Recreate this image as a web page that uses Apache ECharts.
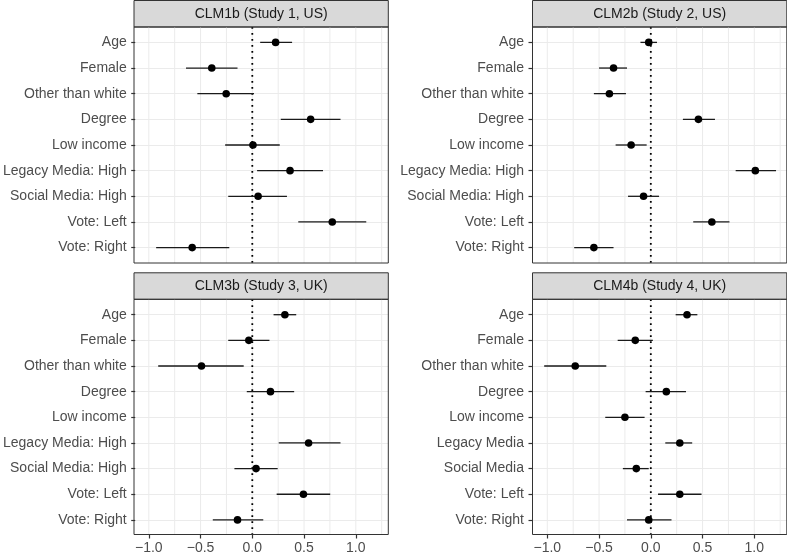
<!DOCTYPE html>
<html>
<head>
<meta charset="utf-8">
<script src="https://cdn.jsdelivr.net/npm/echarts@6/dist/echarts.min.js"></script>
<style>
  html, body { margin: 0; padding: 0; background: #fff; }
  #chart { width: 787px; height: 555px; }
</style>
</head>
<body>
<div id="chart"></div>
<script>
// categories
var termsLong = ['Age', 'Female', 'Other than white', 'Degree', 'Low income',
  'Legacy Media: High', 'Social Media: High', 'Vote: Left', 'Vote: Right'];
var termsShort = ['Age', 'Female', 'Other than white', 'Degree', 'Low income',
  'Legacy Media', 'Social Media', 'Vote: Left', 'Vote: Right'];
var panelTitles = ['CLM1b (Study 1, US)', 'CLM2b (Study 2, US)', 'CLM3b (Study 3, UK)', 'CLM4b (Study 4, UK)'];

// estimates and interval ends, one set per model
var est1 = [0.22, -0.40, -0.26, 0.56, 0.00, 0.36, 0.05, 0.77, -0.59];
var lo1  = [0.07, -0.65, -0.54, 0.27, -0.27, 0.04, -0.24, 0.44, -0.94];
var hi1  = [0.38, -0.15, 0.01, 0.85, 0.26, 0.68, 0.33, 1.10, -0.23];

var est2 = [-0.02, -0.36, -0.40, 0.46, -0.19, 1.01, -0.07, 0.59, -0.55];
var lo2  = [-0.10, -0.50, -0.55, 0.31, -0.34, 0.82, -0.22, 0.41, -0.74];
var hi2  = [0.06, -0.23, -0.24, 0.62, -0.04, 1.21, 0.08, 0.76, -0.36];

var est3 = [0.31, -0.04, -0.50, 0.17, null, 0.54, 0.03, 0.49, -0.15];
var lo3  = [0.20, -0.24, -0.92, -0.06, null, 0.25, -0.18, 0.23, -0.39];
var hi3  = [0.42, 0.16, -0.09, 0.40, null, 0.85, 0.24, 0.75, 0.10];

var est4 = [0.35, -0.15, -0.73, 0.15, -0.25, 0.28, -0.14, 0.28, -0.02];
var lo4  = [0.24, -0.32, -1.03, -0.05, -0.44, 0.14, -0.27, 0.07, -0.23];
var hi4  = [0.45, 0.02, -0.43, 0.34, -0.06, 0.40, -0.02, 0.49, 0.20];

// x ticks
var xMajor = [-1, -0.5, 0, 0.5, 1];
var xGrid = [-1, -0.75, -0.5, -0.25, 0, 0.25, 0.5, 0.75, 1, 1.25];
var refValue = 0;

var FONT = 'Liberation Sans, Arial, Helvetica, sans-serif';
var X_MIN = -1.143, X_MAX = 1.314;

var panels = [
  { left: 134, top: 27, terms: termsLong, est: est1, lo: lo1, hi: hi1, bottom: false },
  { left: 532.5, top: 27, terms: termsLong, est: est2, lo: lo2, hi: hi2, bottom: false },
  { left: 134, top: 299.3, terms: termsLong, est: est3, lo: lo3, hi: hi3, bottom: true },
  { left: 532.5, top: 299.3, terms: termsShort, est: est4, lo: lo4, hi: hi4, bottom: true }
];
var PW = 254.3, PH = 236, STRIP = 27;
var step = PH / 9.2;

function fmt (v) {
  return (v < 0 ? '\u2212' : '') + Math.abs(v).toFixed(1);
}

// full-height vertical line at x value (grid lines / reference line)
function vLine (color, width, dash) {
  return function (params, api) {
    var cs = params.coordSys;
    var x = api.coord([api.value(0), 0.5])[0];
    return {
      type: 'line',
      shape: { x1: x, y1: cs.y, x2: x, y2: cs.y + cs.height },
      style: { stroke: color, lineWidth: width, lineDash: dash || null }
    };
  };
}

function renderErr (params, api) {
  var y = api.value(1);
  var p = api.coord([api.value(0), y]);
  var a = api.coord([api.value(2), y]);
  var b = api.coord([api.value(3), y]);
  return {
    type: 'group',
    children: [
      { type: 'line', shape: { x1: a[0], y1: a[1], x2: b[0], y2: b[1] }, style: { stroke: '#1a1a1a', lineWidth: 1.3 } },
      { type: 'circle', shape: { cx: p[0], cy: p[1], r: 3.8 }, style: { fill: '#000' } }
    ]
  };
}

var grid = [], xAxis = [], yAxis = [], series = [], graphic = [];

panels.forEach(function (pn, i) {
  var gOuter = i * 2, gInner = i * 2 + 1;
  grid.push({ left: pn.left, top: pn.top, width: PW, height: PH, show: true, borderColor: '#333333', borderWidth: 1, backgroundColor: 'transparent', z: 4 });
  grid.push({ left: pn.left, top: pn.top + 0.6 * step, width: PW, height: 8 * step });

  // outer grid x: ticks and labels (bottom row only)
  var xa = xAxis.length;
  xAxis.push({
    gridIndex: gOuter, type: 'value', min: X_MIN, max: X_MAX, position: 'bottom',
    show: pn.bottom,
    axisLine: { show: false, onZero: false },
    axisTick: { show: true, length: 4, lineStyle: { color: '#333333', width: 1.2 }, customValues: xMajor },
    axisLabel: { customValues: xMajor, formatter: fmt, color: '#4D4D4D', fontSize: 14, fontFamily: FONT, margin: 6.5 },
    splitLine: { show: false }
  });
  // inner grid x
  var xi = xAxis.length;
  xAxis.push({ gridIndex: gInner, type: 'value', min: X_MIN, max: X_MAX, show: false });

  var ya = yAxis.length;
  yAxis.push({ gridIndex: gOuter, type: 'value', min: 0, max: 1, show: false });
  var yi = yAxis.length;
  yAxis.push({
    gridIndex: gInner, type: 'category', data: pn.terms, inverse: true, boundaryGap: false,
    position: 'left',
    axisLine: { show: false, onZero: false },
    axisTick: { length: 4, interval: 0, lineStyle: { color: '#333333', width: 1.2 } },
    axisLabel: { interval: 0, color: '#4D4D4D', fontSize: 14, fontFamily: FONT, margin: 8.5 },
    splitLine: { show: true, interval: 0, lineStyle: { color: '#EBEBEB', width: 1 } }
  });

  // vertical grid lines
  series.push({
    type: 'custom', xAxisIndex: xa, yAxisIndex: ya, silent: true, z: 1,
    renderItem: vLine('#EBEBEB', 1), encode: { x: 0 },
    data: xGrid.map(function (v) { return [v]; })
  });
  // reference line at 0
  series.push({
    type: 'custom', xAxisIndex: xa, yAxisIndex: ya, silent: true, z: 3,
    renderItem: vLine('#000', 1.8, [1.8, 4.2]), encode: { x: 0 },
    data: [[refValue]]
  });

  var items = [];
  pn.est.forEach(function (v, k) {
    if (v === null) return;
    items.push([v, k, pn.lo[k], pn.hi[k]]);
  });
  series.push({
    type: 'custom', xAxisIndex: xi, yAxisIndex: yi, renderItem: renderErr,
    encode: { x: [0, 2, 3], y: 1 }, data: items, z: 5
  });

  // facet strip
  graphic.push({
    type: 'rect', shape: { x: pn.left, y: pn.top - STRIP + 0.5, width: PW, height: STRIP - 0.5 },
    style: { fill: '#D9D9D9', stroke: '#333333', lineWidth: 1 }
  });
  graphic.push({
    type: 'text', x: pn.left + PW / 2, y: pn.top - STRIP / 2 + 0.5,
    style: { text: panelTitles[i], textAlign: 'center', textVerticalAlign: 'middle', font: '14px ' + FONT, fill: '#1A1A1A' }
  });
});

var myChart = echarts.init(document.getElementById('chart'), null, { renderer: 'canvas' });
myChart.setOption({
  animation: false,
  backgroundColor: '#fff',
  grid: grid,
  xAxis: xAxis,
  yAxis: yAxis,
  series: series,
  graphic: graphic
});
</script>
</body>
</html>
